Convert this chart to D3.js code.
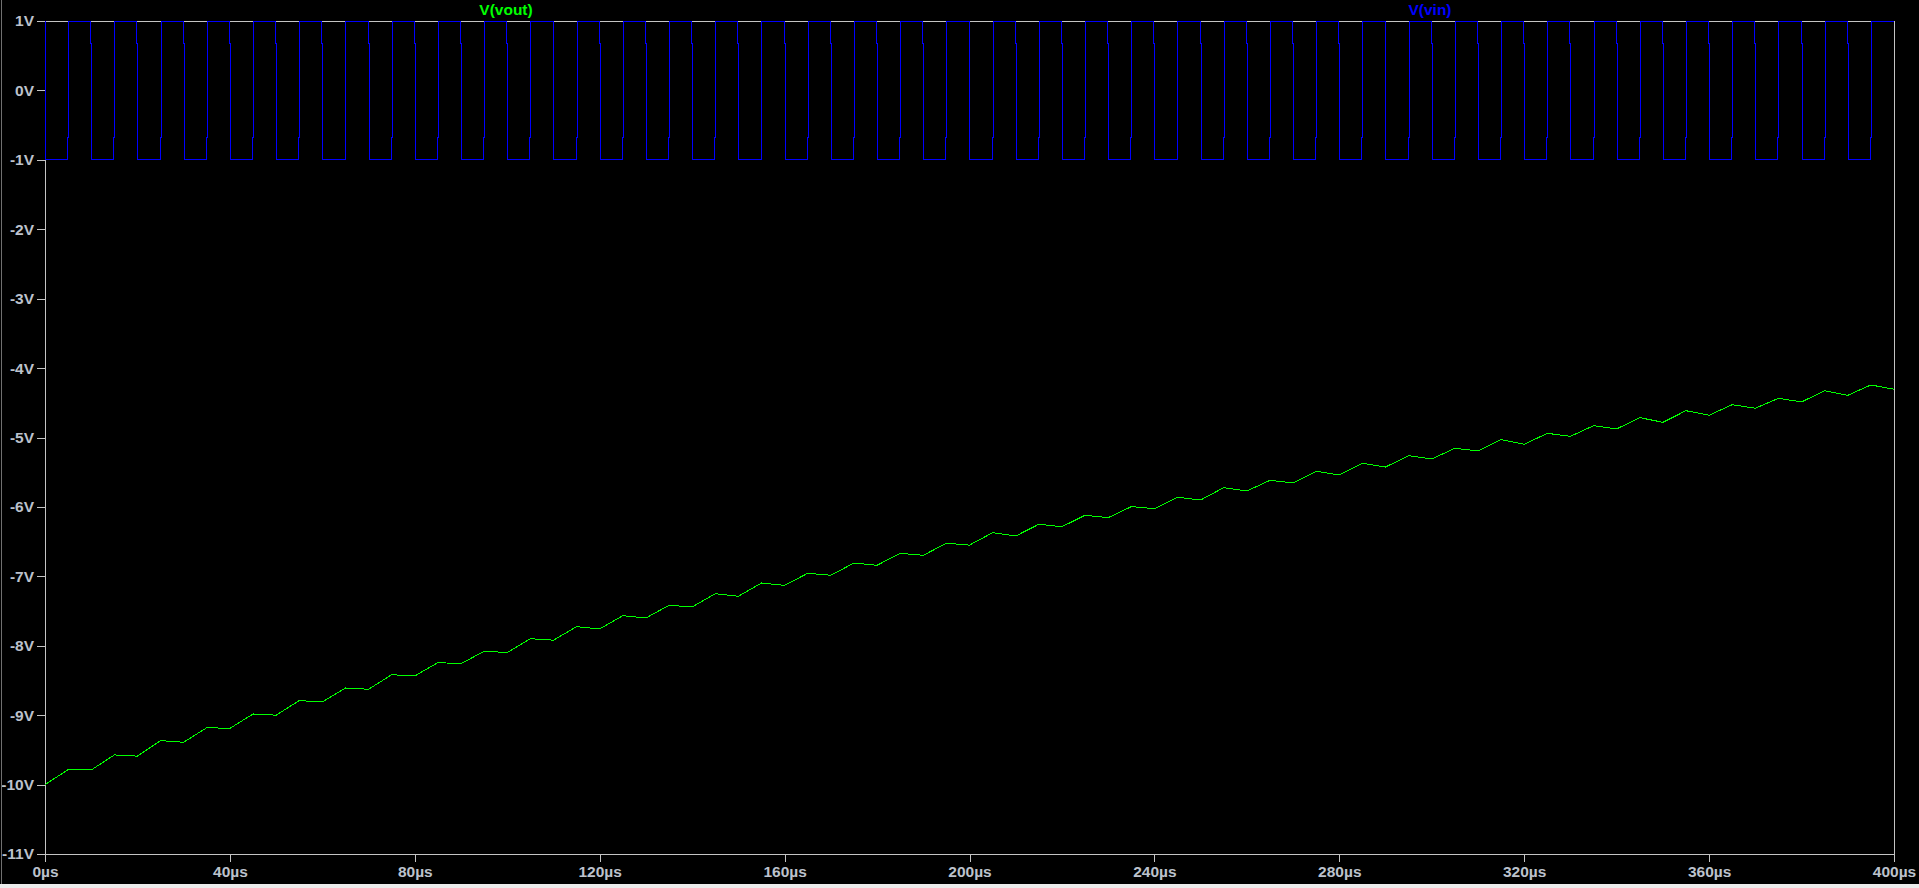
<!DOCTYPE html>
<html>
<head>
<meta charset="utf-8">
<title>V(vout) / V(vin)</title>
<script src="https://cdn.jsdelivr.net/npm/d3@7"></script>
<style>
  html, body { margin: 0; padding: 0; background: #000; overflow: hidden; }
  svg { display: block; }
  .axis text { font-family: "Liberation Sans", Arial, sans-serif; font-weight: bold; font-size: 15.5px; fill: #bcc2cc; }
  .axis line, .axis path { stroke: #c4c4c4; shape-rendering: crispEdges; }
  .trace { fill: none; stroke-width: 1; shape-rendering: crispEdges; }
  .title { font-family: "Liberation Sans", Arial, sans-serif; font-weight: bold; font-size: 15.5px; text-anchor: middle; }
</style>
</head>
<body>
<div id="plot"></div>
<script>
// sample instants (µs) - every pulse edge of vin
var timeUs = [0,5,10,15,20,25,30,35,40,45,
  50,55,60,65,70,75,80,85,90,95,
  100,105,110,115,120,125,130,135,140,145,
  150,155,160,165,170,175,180,185,190,195,
  200,205,210,215,220,225,230,235,240,245,
  250,255,260,265,270,275,280,285,290,295,
  300,305,310,315,320,325,330,335,340,345,
  350,355,360,365,370,375,380,385,390,395,
  400];

// V(vout) read at each instant (troughs at 10k, peaks at 10k+5)
var vout = [-10.00,-9.785,-9.79,-9.573,-9.59,-9.367,-9.39,-9.18,-9.19,-8.983,
  -9.00,-8.79,-8.81,-8.608,-8.627,-8.417,-8.435,-8.243,-8.258,-8.08,
  -8.097,-7.898,-7.92,-7.725,-7.758,-7.567,-7.60,-7.417,-7.441,-7.25,
  -7.287,-7.096,-7.13,-6.956,-6.985,-6.808,-6.841,-6.668,-6.697,-6.524,
  -6.55,-6.371,-6.419,-6.25,-6.285,-6.12,-6.155,-5.996,-6.025,-5.861,
  -5.90,-5.723,-5.771,-5.617,-5.655,-5.487,-5.54,-5.372,-5.425,-5.262,
  -5.31,-5.155,-5.194,-5.031,-5.098,-4.94,-4.983,-4.83,-4.877,-4.714,
  -4.781,-4.614,-4.68,-4.527,-4.579,-4.435,-4.488,-4.326,-4.392,-4.243,
  -4.305];

// V(vin) level right after each instant
var vinStart = 1;
var vinLevels = [-1,1,-1,1,-1,1,-1,1,-1,1,
  -1,1,-1,1,-1,1,-1,1,-1,1,
  -1,1,-1,1,-1,1,-1,1,-1,1,
  -1,1,-1,1,-1,1,-1,1,-1,1,
  -1,1,-1,1,-1,1,-1,1,-1,1,
  -1,1,-1,1,-1,1,-1,1,-1,1,
  -1,1,-1,1,-1,1,-1,1,-1,1,
  -1,1,-1,1,-1,1,-1,1,-1,1,
  1];
// small kink seen on the edges (fraction of the swing, µs)
var edgeKink = 0.16, edgeSkew = 0.1;

var yTicks = [1,0,-1,-2,-3,-4,-5,-6,-7,-8,-9,-10,-11];
var yTickLabels = ["1V","0V","-1V","-2V","-3V","-4V","-5V","-6V","-7V","-8V","-9V","-10V","-11V"];
var xTicks = [0,40,80,120,160,200,240,280,320,360,400];
var xTickLabels = ["0µs","40µs","80µs","120µs","160µs","200µs","240µs","280µs","320µs","360µs","400µs"];

var W = 1919, H = 888;
var svg = d3.select("#plot").append("svg").attr("width", W).attr("height", H);
svg.append("rect").attr("width", W).attr("height", H).attr("fill", "#000");

var x = d3.scaleLinear().domain([0, 400]).range([45, 1894]);
var y = d3.scaleLinear().domain([-11, 1]).range([854, 21]);

// frame (top + right)
svg.append("g").attr("class", "axis")
  .attr("transform", "translate(0," + y.range()[1] + ")")
  .call(d3.axisTop(x).tickValues([]).tickSizeOuter(0));
svg.append("g").attr("class", "axis")
  .attr("transform", "translate(" + x.range()[1] + ",0)")
  .call(d3.axisRight(y).tickValues([]).tickSizeOuter(0));

svg.append("g").attr("class", "axis")
  .attr("transform", "translate(" + x.range()[0] + ",0)")
  .call(d3.axisLeft(y).tickValues(yTicks).tickSize(8).tickSizeOuter(0).tickPadding(3)
    .tickFormat(function(d, i){ return yTickLabels[i]; }));

svg.append("g").attr("class", "axis")
  .attr("transform", "translate(0," + y.range()[0] + ")")
  .call(d3.axisBottom(x).tickValues(xTicks).tickSize(8).tickSizeOuter(0).tickPadding(4)
    .tickFormat(function(d, i){ return xTickLabels[i]; }));

svg.selectAll(".axis .domain").attr("stroke", "#c4c4c4");

// V(vin) as steps with the edge kink
var vinPts = [];
var prev = vinStart;
timeUs.forEach(function(t, i){
  var v = vinLevels[i];
  if (v === prev) { vinPts.push([t, v]); return; }
  var k = prev + edgeKink * (v - prev);
  var t0 = Math.max(0, t - edgeSkew), t1 = t === 0 ? 0 : t + edgeSkew;
  vinPts.push([t0, prev], [t0, k], [t1, k], [t1, v]);
  prev = v;
});

var line = d3.line().x(function(d){ return x(d[0]); }).y(function(d){ return y(d[1]); });

svg.append("path").attr("class", "trace")
  .attr("stroke", "#0000ff")
  .attr("d", line(vinPts));

svg.append("path").attr("class", "trace")
  .attr("stroke", "#00ff00")
  .attr("d", line(timeUs.map(function(t, i){ return [t, vout[i]]; })));

// trace names
svg.append("text").attr("class", "title").attr("x", 506).attr("y", 15).attr("fill", "#00ff00").text("V(vout)");
svg.append("text").attr("class", "title").attr("x", 1430).attr("y", 15).attr("fill", "#0000ff").text("V(vin)");

// window edges
svg.append("line").attr("x1", 1.5).attr("x2", 1.5).attr("y1", 0).attr("y2", 884).attr("stroke", "#707070");
svg.append("rect").attr("x", 0).attr("y", 884).attr("width", W).attr("height", 4).attr("fill", "#ececec");
</script>
</body>
</html>
